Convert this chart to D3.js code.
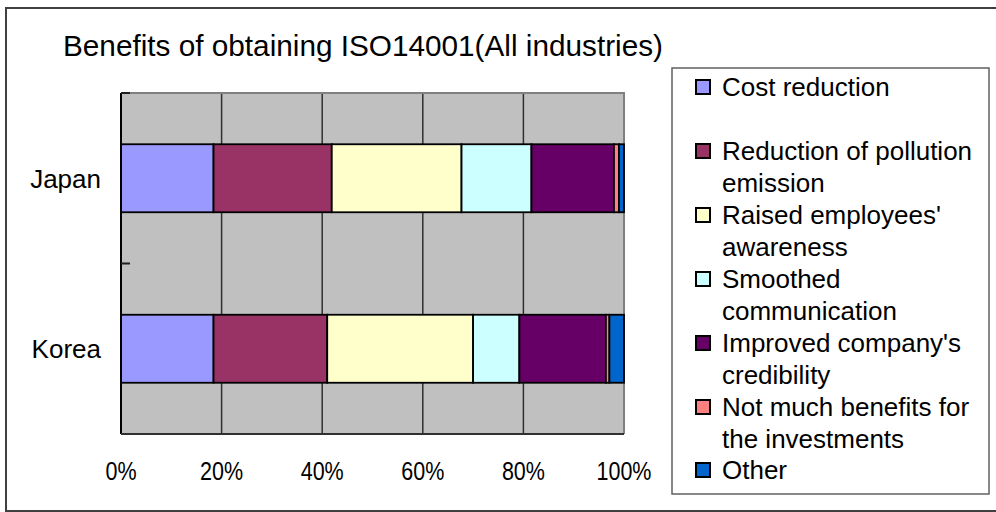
<!DOCTYPE html>
<html>
<head>
<meta charset="utf-8">
<script src="https://cdn.jsdelivr.net/npm/d3@7"></script>
<style>
  html, body { margin: 0; padding: 0; background: #fff; }
  svg { display: block; font-family: "Liberation Sans", Arial, sans-serif; }
</style>
</head>
<body>
<svg id="chart" width="996" height="512"></svg>
<script>
const title = "Benefits of obtaining ISO14001(All industries)";
const categories = ["Japan", "Korea"];
const seriesNames = [
  "Cost reduction",
  "Reduction of pollution emission",
  "Raised employees' awareness",
  "Smoothed communication",
  "Improved company's credibility",
  "Not much benefits for the investments",
  "Other"
];
const legendLines = [
  ["Cost reduction"],
  ["Reduction of pollution", "emission"],
  ["Raised employees'", "awareness"],
  ["Smoothed", "communication"],
  ["Improved company's", "credibility"],
  ["Not much benefits for", "the investments"],
  ["Other"]
];
const seriesColors = ["#9999FF", "#993366", "#FFFFCC", "#CCFFFF", "#660066", "#FF8080", "#0066CC"];
const japanValues = [18.4, 23.5, 25.8, 13.9, 16.4, 1.0, 1.0];
const koreaValues = [18.4, 22.6, 29.0, 9.2, 17.2, 0.7, 2.9];
const tickValues = [0, 0.2, 0.4, 0.6, 0.8, 1.0];

const svg = d3.select("#chart");

// outer chart border
svg.append("rect").attr("x", 6).attr("y", 8).attr("width", 1000).attr("height", 503)
  .attr("fill", "#fff").attr("stroke", "#404040").attr("stroke-width", 2);

// title
svg.append("text").attr("x", 63).attr("y", 56)
  .attr("font-size", 30).attr("fill", "#000")
  .attr("textLength", 600).attr("lengthAdjust", "spacingAndGlyphs")
  .text(title);

const plot = { left: 121, right: 624, top: 93, bottom: 434 };
const x = d3.scaleLinear().domain([0, 1]).range([plot.left, plot.right]);
const y = d3.scaleBand().domain(categories).range([plot.top, plot.bottom]).paddingInner(0.6).paddingOuter(0.3);

// plot background
svg.append("rect").attr("x", plot.left).attr("y", plot.top)
  .attr("width", plot.right - plot.left).attr("height", plot.bottom - plot.top)
  .attr("fill", "#C0C0C0");

// gridlines
svg.append("g").selectAll("line").data(tickValues.slice(1, -1)).join("line")
  .attr("x1", d => x(d)).attr("x2", d => x(d))
  .attr("y1", plot.top).attr("y2", plot.bottom)
  .attr("stroke", "#303030").attr("stroke-width", 1.5);

// plot border (top/right gray)
svg.append("path")
  .attr("d", `M${plot.left},${plot.top}H${plot.right}V${plot.bottom}`)
  .attr("fill", "none").attr("stroke", "#808080").attr("stroke-width", 2);

// stacked data
const rows = categories.map((c, i) => {
  const vals = i === 0 ? japanValues : koreaValues;
  const total = d3.sum(vals);
  const o = { category: c };
  seriesNames.forEach((s, j) => o[s] = vals[j] / total);
  return o;
});
const stack = d3.stack().keys(seriesNames);
const stacked = stack(rows);

const barH = 68;
const bandCenter = c => y(c) + y.bandwidth() / 2;

svg.append("g").selectAll("g").data(stacked).join("g")
  .attr("fill", (d, i) => seriesColors[i])
  .selectAll("rect").data(d => d).join("rect")
  .attr("x", d => x(d[0]))
  .attr("width", d => x(d[1]) - x(d[0]))
  .attr("y", d => bandCenter(d.data.category) - barH / 2)
  .attr("height", barH)
  .attr("stroke", "#000").attr("stroke-width", 1.8);

// y axis
const yAxisG = svg.append("g");
yAxisG.append("line").attr("x1", plot.left).attr("x2", plot.left)
  .attr("y1", plot.top).attr("y2", plot.bottom).attr("stroke", "#000").attr("stroke-width", 2);
const yTickPos = [plot.top, (plot.top + plot.bottom) / 2, plot.bottom];
yAxisG.selectAll("line.t").data(yTickPos).join("line").attr("class", "t")
  .attr("x1", plot.left).attr("x2", plot.left + 9)
  .attr("y1", d => d).attr("y2", d => d)
  .attr("stroke", "#202020").attr("stroke-width", 2);
yAxisG.selectAll("text").data(categories).join("text")
  .attr("x", 101).attr("y", d => bandCenter(d))
  .attr("dy", "0.36em").attr("text-anchor", "end")
  .attr("font-size", 26).text(d => d);

// x axis
const xAxisG = svg.append("g");
xAxisG.append("line").attr("x1", plot.left).attr("x2", plot.right)
  .attr("y1", plot.bottom).attr("y2", plot.bottom).attr("stroke", "#303030").attr("stroke-width", 2);
xAxisG.selectAll("text").data(tickValues).join("text")
  .attr("x", d => x(d)).attr("y", 480)
  .attr("text-anchor", "middle").attr("font-size", 25)
  .text(d => d3.format(".0%")(d))
  .each(function() {
    const w = this.getComputedTextLength();
    d3.select(this).attr("textLength", w * 0.86).attr("lengthAdjust", "spacingAndGlyphs");
  });

// legend
const lg = svg.append("g");
lg.append("rect").attr("x", 672).attr("y", 68).attr("width", 317).attr("height", 426)
  .attr("fill", "#fff").attr("stroke", "#606060").attr("stroke-width", 1.5);
const lineH = 32;
const itemTop = 87;
const items = lg.selectAll("g.item").data(seriesNames).join("g").attr("class", "item")
  .attr("transform", (d, i) => `translate(0, ${itemTop + i * 2 * lineH - (i === 6 ? 1 : 0)})`);
items.append("rect").attr("x", 696).attr("y", -7).attr("width", 14).attr("height", 14)
  .attr("fill", (d, i) => seriesColors[i]).attr("stroke", "#000").attr("stroke-width", 2);
items.each(function(d, i) {
  const g = d3.select(this);
  legendLines[i].forEach((ln, k) => {
    g.append("text").attr("x", 722).attr("y", k * lineH).attr("dy", "0.36em")
      .attr("font-size", 26).text(ln);
  });
});
</script>
</body>
</html>
